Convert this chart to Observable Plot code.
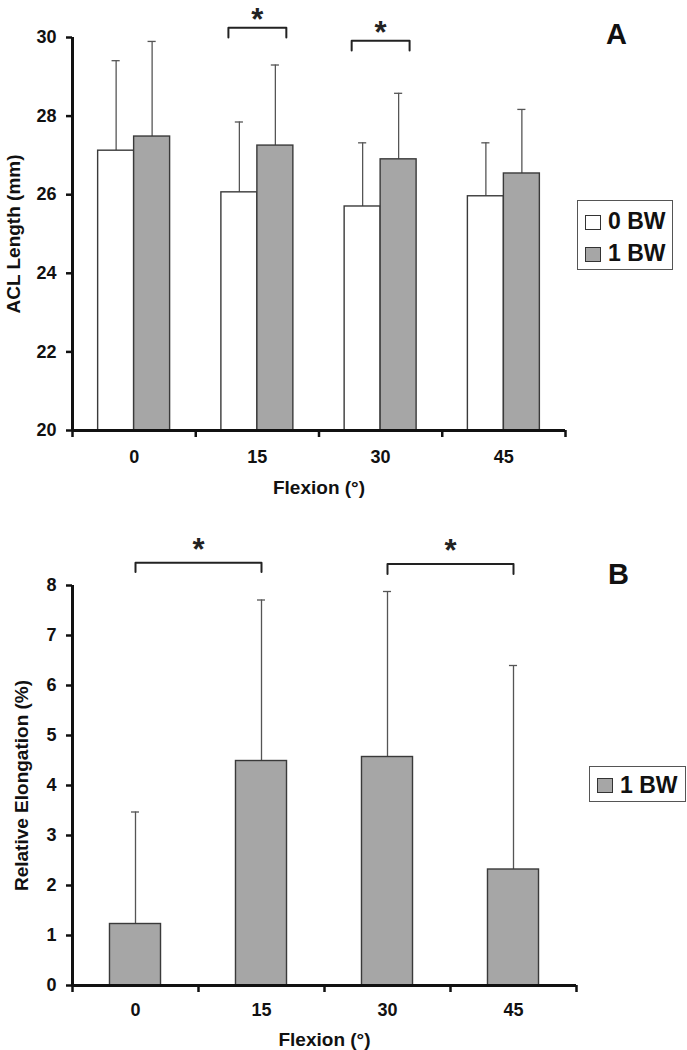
<!DOCTYPE html>
<html>
<head>
<meta charset="utf-8">
<script src="https://cdn.jsdelivr.net/npm/d3@7"></script>
<script src="https://cdn.jsdelivr.net/npm/@observablehq/plot@0.6"></script>
<style>
  body { margin: 0; background: #fff; font-family: "Liberation Sans", Arial, sans-serif; }
  #wrap { position: relative; width: 687px; height: 1050px; overflow: hidden; }
  .panel { position: absolute; left: 0; }
  .legend { position: absolute; border: 1.5px solid #555; background: #fff; box-sizing: border-box; }
  .sw { position: absolute; width: 16px; height: 15px; border: 1px solid #333; box-sizing: border-box; }
  .lt { position: absolute; font-weight: bold; font-size: 23px; line-height: 23px; color: #111; white-space: nowrap; }
</style>
</head>
<body>
<div id="wrap">
  <div id="panelA" class="panel" style="top:0"></div>
  <div id="panelB" class="panel" style="top:500px"></div>
</div>
<script>
// ---------- data ----------
const flexion = ["0", "15", "30", "45"];
const seriesNames = ["0 BW", "1 BW"];
const seriesColors = ["#ffffff", "#a6a6a6"];
// Panel A: ACL length (mm), mean and SD
const lenMean0BW = [27.12, 26.06, 25.70, 25.96];
const lenSD0BW   = [2.29, 1.79, 1.62, 1.36];
const lenMean1BW = [27.48, 27.25, 26.90, 26.54];
const lenSD1BW   = [2.42, 2.05, 1.68, 1.63];
// Panel B: relative elongation (%) at 1 BW, mean and SD
const elongMean1BW = [1.23, 4.49, 4.57, 2.32];
const elongSD1BW   = [2.24, 3.22, 3.31, 4.08];
// axis ticks
const yTicksA = [20, 22, 24, 26, 28, 30];
const yTicksB = [0, 1, 2, 3, 4, 5, 6, 7, 8];
// significance: A compares 0 BW vs 1 BW within a flexion angle; B compares two angles
const sigA = ["15", "30"];
const sigB = [["0", "15"], ["30", "45"]];
const labelX = "Flexion (°)";
const labelYA = "ACL Length (mm)";
const labelYB = "Relative Elongation (%)";

// ---------- layout / style ----------
const font = '"Liberation Sans", Arial, sans-serif';
const bwA = 0.292, bwB = 0.405;      // bar width in category-band units
const capA = 0.033, capB = 0.032;    // half width of error caps
const sigLevelA = [[30.25, 30.0], [29.92, 29.67]];
const sigLevelB = [[8.456, 8.27], [8.43, 8.23]];
const brHalfA = 0.235;

function bars(means, sds, s, n, bw) {
  return flexion.map((f, i) => {
    const c = i + 0.5 + (s - (n - 1) / 2) * bw;
    return {flex: f, c, x1: c - bw / 2, x2: c + bw / 2, mean: means[i], top: means[i] + sds[i]};
  });
}
const idx = f => flexion.indexOf(f);

const a0 = bars(lenMean0BW, lenSD0BW, 0, 2, bwA);
const a1 = bars(lenMean1BW, lenSD1BW, 1, 2, bwA);
const b1 = bars(elongMean1BW, elongSD1BW, 0, 1, bwB);

// bracket polylines
const brA = sigA.flatMap((f, k) => {
  const c = idx(f) + 0.5, [hi, lo] = sigLevelA[k];
  return [[c - brHalfA, lo], [c - brHalfA, hi], [c + brHalfA, hi], [c + brHalfA, lo]].map(([x, y]) => ({id: k, x, y}));
});
const starA = sigA.map((f, k) => ({x: idx(f) + 0.5, y: sigLevelA[k][0]}));
const brB = sigB.flatMap(([f1, f2], k) => {
  const xa = idx(f1) + 0.5, xb = idx(f2) + 0.5, [hi, lo] = sigLevelB[k];
  return [[xa, lo], [xa, hi], [xb, hi], [xb, lo]].map(([x, y]) => ({id: k, x, y}));
});
const starB = sigB.map(([f1, f2], k) => ({x: (idx(f1) + idx(f2)) / 2 + 0.5, y: sigLevelB[k][0]}));

const boundaries = d3.range(flexion.length + 1);
const centers = flexion.map((f, i) => i + 0.5);

function errorMarks(rows, cap) {
  return [
    Plot.ruleX(rows, {x: "c", y1: "mean", y2: "top", stroke: "#555", strokeWidth: 1.3}),
    Plot.ruleY(rows, {y: "top", x1: d => d.c - cap, x2: d => d.c + cap, stroke: "#555", strokeWidth: 1.3})
  ];
}

const style = {fontFamily: font, fontWeight: "bold", fontSize: "18px", color: "#111", background: "transparent", overflow: "visible"};
const mid = {textAnchor: "middle", lineAnchor: "middle", fontWeight: "bold"};

const chartA = Plot.plot({
  width: 687, height: 500,
  marginLeft: 72, marginRight: 122, marginTop: 37, marginBottom: 70,
  style,
  x: {domain: [0, 4]},
  y: {domain: [20, 30]},
  marks: [
    ...errorMarks(a0, capA),
    ...errorMarks(a1, capA),
    Plot.rect(a0, {x1: "x1", x2: "x2", y1: 20, y2: "mean", fill: seriesColors[0], stroke: "#3a3a3a", strokeWidth: 1.4}),
    Plot.rect(a1, {x1: "x1", x2: "x2", y1: 20, y2: "mean", fill: seriesColors[1], stroke: "#3a3a3a", strokeWidth: 1.4}),
    Plot.ruleY([20], {stroke: "#111", strokeWidth: 3}),
    Plot.ruleX([0], {stroke: "#111", strokeWidth: 3}),
    Plot.axisY({ticks: yTicksA, tickSize: 6, tickPadding: 10, strokeWidth: 2.5, fontSize: 18, label: null}),
    Plot.axisX({ticks: boundaries, tickSize: 7, strokeWidth: 2.5, tickFormat: () => "", label: null}),
    Plot.axisX({ticks: centers, tickSize: 0, tickPadding: 20, fontSize: 18, tickFormat: d => flexion[Math.floor(d)], label: null}),
    Plot.text([labelX], {frameAnchor: "bottom", dy: 57, fontSize: 19, ...mid}),
    Plot.text([labelYA], {frameAnchor: "left", rotate: -90, dx: -59, fontSize: 19, ...mid}),
    Plot.text(["A"], {frameAnchor: "top-right", dx: 51, dy: -3, fontSize: 29, ...mid}),
    Plot.line(brA, {x: "x", y: "y", z: "id", stroke: "#222", strokeWidth: 2}),
    Plot.text(starA, {x: "x", y: "y", text: () => "*", dy: -8, fontSize: 31, ...mid, fill: "#222"})
  ]
});
document.getElementById("panelA").append(chartA);

const chartB = Plot.plot({
  width: 687, height: 550,
  marginLeft: 72, marginRight: 111, marginTop: 85, marginBottom: 65,
  style,
  x: {domain: [0, 4]},
  y: {domain: [0, 8]},
  marks: [
    ...errorMarks(b1, capB),
    Plot.rect(b1, {x1: "x1", x2: "x2", y1: 0, y2: "mean", fill: seriesColors[1], stroke: "#3a3a3a", strokeWidth: 1.4}),
    Plot.ruleY([0], {stroke: "#111", strokeWidth: 3}),
    Plot.ruleX([0], {stroke: "#111", strokeWidth: 3}),
    Plot.axisY({ticks: yTicksB, tickSize: 6, tickPadding: 10, strokeWidth: 2.5, fontSize: 18, label: null}),
    Plot.axisX({ticks: boundaries, tickSize: 7, strokeWidth: 2.5, tickFormat: () => "", label: null}),
    Plot.axisX({ticks: centers, tickSize: 0, tickPadding: 18, fontSize: 18, tickFormat: d => flexion[Math.floor(d)], label: null}),
    Plot.text([labelX], {frameAnchor: "bottom", dy: 54, fontSize: 19, ...mid}),
    Plot.text([labelYB], {frameAnchor: "left", rotate: -90, dx: -51, fontSize: 19, ...mid}),
    Plot.text(["B"], {frameAnchor: "top-right", dx: 42, dy: -11, fontSize: 29, ...mid}),
    Plot.line(brB, {x: "x", y: "y", z: "id", stroke: "#222", strokeWidth: 2}),
    Plot.text(starB, {x: "x", y: "y", text: () => "*", dy: -13, fontSize: 31, ...mid, fill: "#222"})
  ]
});
document.getElementById("panelB").append(chartB);

// ---------- legends ----------
function legend(top, left, width, height, entries) {
  const box = document.createElement("div");
  box.className = "legend";
  Object.assign(box.style, {top: top + "px", left: left + "px", width: width + "px", height: height + "px"});
  entries.forEach(([name, color, swTop, txtTop]) => {
    const sw = document.createElement("div");
    sw.className = "sw";
    Object.assign(sw.style, {left: "7px", top: swTop + "px", background: color});
    const t = document.createElement("div");
    t.className = "lt";
    Object.assign(t.style, {left: "30px", top: txtTop + "px"});
    t.textContent = name;
    box.append(sw, t);
  });
  document.getElementById("wrap").append(box);
}
legend(200, 577, 96, 70, [[seriesNames[0], seriesColors[0], 14, 9], [seriesNames[1], seriesColors[1], 46, 41]]);
legend(766, 589, 97, 36, [[seriesNames[1], seriesColors[1], 11, 7]]);
</script>
</body>
</html>
